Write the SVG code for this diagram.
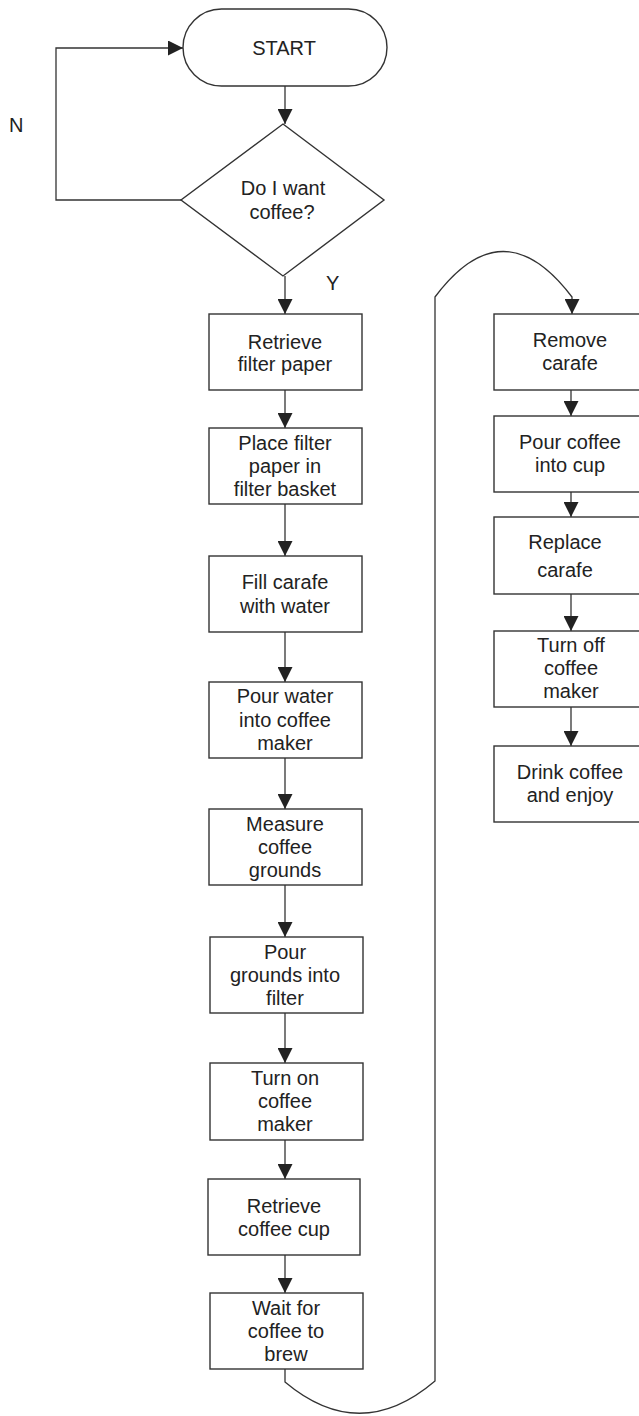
<svg xmlns="http://www.w3.org/2000/svg" width="639" height="1416" viewBox="0 0 639 1416">
<style>
.box{fill:#fff;stroke:#333;stroke-width:1.4}
.ln{fill:none;stroke:#333;stroke-width:1.3}
.t{font-family:"Liberation Sans",Arial,sans-serif;font-size:20px;fill:#222;text-anchor:middle}
.lb{font-family:"Liberation Sans",Arial,sans-serif;font-size:20px;fill:#222}
</style>
<defs>
<marker id="ah" markerUnits="userSpaceOnUse" markerWidth="15" markerHeight="15" refX="14" refY="7" orient="auto" viewBox="0 0 14 14">
<path d="M0,0 L14,7 L0,14 z" fill="#222"/>
</marker>
</defs>
<rect width="639" height="1416" fill="#fff"/>
<g id="connectors">
<path class="ln" d="M181,200 L56,200 L56,48 L183,48" marker-end="url(#ah)"/>
<path class="ln" d="M285,86 L285,124" marker-end="url(#ah)"/>
<path class="ln" d="M285,276 L285,314" marker-end="url(#ah)"/>
<path class="ln" d="M285,390 L285,428" marker-end="url(#ah)"/>
<path class="ln" d="M285,504 L285,556" marker-end="url(#ah)"/>
<path class="ln" d="M285,632 L285,682" marker-end="url(#ah)"/>
<path class="ln" d="M285,758 L285,809" marker-end="url(#ah)"/>
<path class="ln" d="M285,885 L285,937" marker-end="url(#ah)"/>
<path class="ln" d="M285,1013 L285,1063" marker-end="url(#ah)"/>
<path class="ln" d="M285,1140 L285,1179" marker-end="url(#ah)"/>
<path class="ln" d="M285,1255 L285,1293" marker-end="url(#ah)"/>
<path class="ln" d="M285,1369 L285,1382 Q360,1445 435,1381 L435,297 Q503,206 572,297 L572,314" marker-end="url(#ah)"/>
<path class="ln" d="M571,390 L571,416" marker-end="url(#ah)"/>
<path class="ln" d="M571,492 L571,517" marker-end="url(#ah)"/>
<path class="ln" d="M571,594 L571,631" marker-end="url(#ah)"/>
<path class="ln" d="M571,707 L571,746" marker-end="url(#ah)"/>
</g>
<g id="start">
<rect class="box" x="183" y="9" width="204" height="77" rx="38.5" ry="38.5"/>
<text class="t" x="284" y="55">START</text>
</g>
<g id="decision">
<polygon class="box" points="283,124 384,200 283,276 181,200"/>
<text class="t" x="283" y="195">Do I want</text>
<text class="t" x="282" y="219">coffee?</text>
</g>
<g id="labels">
<text class="lb" x="9" y="132">N</text>
<text class="lb" x="326" y="290">Y</text>
</g>
<g id="n1">
<rect class="box" x="209" y="314" width="153" height="76"/>
<text class="t" x="285" y="349">Retrieve</text>
<text class="t" x="285" y="371">filter paper</text>
</g>
<g id="n2">
<rect class="box" x="209" y="428" width="153" height="76"/>
<text class="t" x="285" y="450">Place filter</text>
<text class="t" x="285" y="473">paper in</text>
<text class="t" x="285" y="496">filter basket</text>
</g>
<g id="n3">
<rect class="box" x="209" y="556" width="153" height="76"/>
<text class="t" x="285" y="589">Fill carafe</text>
<text class="t" x="285" y="613">with water</text>
</g>
<g id="n4">
<rect class="box" x="209" y="682" width="153" height="76"/>
<text class="t" x="285" y="703">Pour water</text>
<text class="t" x="285" y="727">into coffee</text>
<text class="t" x="285" y="750">maker</text>
</g>
<g id="n5">
<rect class="box" x="209" y="809" width="153" height="76"/>
<text class="t" x="285" y="831">Measure</text>
<text class="t" x="285" y="854">coffee</text>
<text class="t" x="285" y="877">grounds</text>
</g>
<g id="n6">
<rect class="box" x="210" y="937" width="153" height="76"/>
<text class="t" x="285" y="959">Pour</text>
<text class="t" x="285" y="982">grounds into</text>
<text class="t" x="285" y="1005">filter</text>
</g>
<g id="n7">
<rect class="box" x="210" y="1063" width="153" height="77"/>
<text class="t" x="285" y="1085">Turn on</text>
<text class="t" x="285" y="1108">coffee</text>
<text class="t" x="285" y="1131">maker</text>
</g>
<g id="n8">
<rect class="box" x="208" y="1179" width="152" height="76"/>
<text class="t" x="284" y="1213">Retrieve</text>
<text class="t" x="284" y="1236">coffee cup</text>
</g>
<g id="n9">
<rect class="box" x="210" y="1293" width="153" height="76"/>
<text class="t" x="286" y="1315">Wait for</text>
<text class="t" x="286" y="1338">coffee to</text>
<text class="t" x="286" y="1361">brew</text>
</g>
<g id="r1">
<rect class="box" x="494" y="314" width="153" height="76"/>
<text class="t" x="570" y="347">Remove</text>
<text class="t" x="570" y="370">carafe</text>
</g>
<g id="r2">
<rect class="box" x="494" y="416" width="153" height="76"/>
<text class="t" x="570" y="449">Pour coffee</text>
<text class="t" x="570" y="472">into cup</text>
</g>
<g id="r3">
<rect class="box" x="494" y="517" width="153" height="77"/>
<text class="t" x="565" y="549">Replace</text>
<text class="t" x="565" y="577">carafe</text>
</g>
<g id="r4">
<rect class="box" x="494" y="631" width="153" height="76"/>
<text class="t" x="571" y="652">Turn off</text>
<text class="t" x="571" y="675">coffee</text>
<text class="t" x="571" y="698">maker</text>
</g>
<g id="r5">
<rect class="box" x="494" y="746" width="153" height="76"/>
<text class="t" x="570" y="779">Drink coffee</text>
<text class="t" x="570" y="802">and enjoy</text>
</g>
</svg>
